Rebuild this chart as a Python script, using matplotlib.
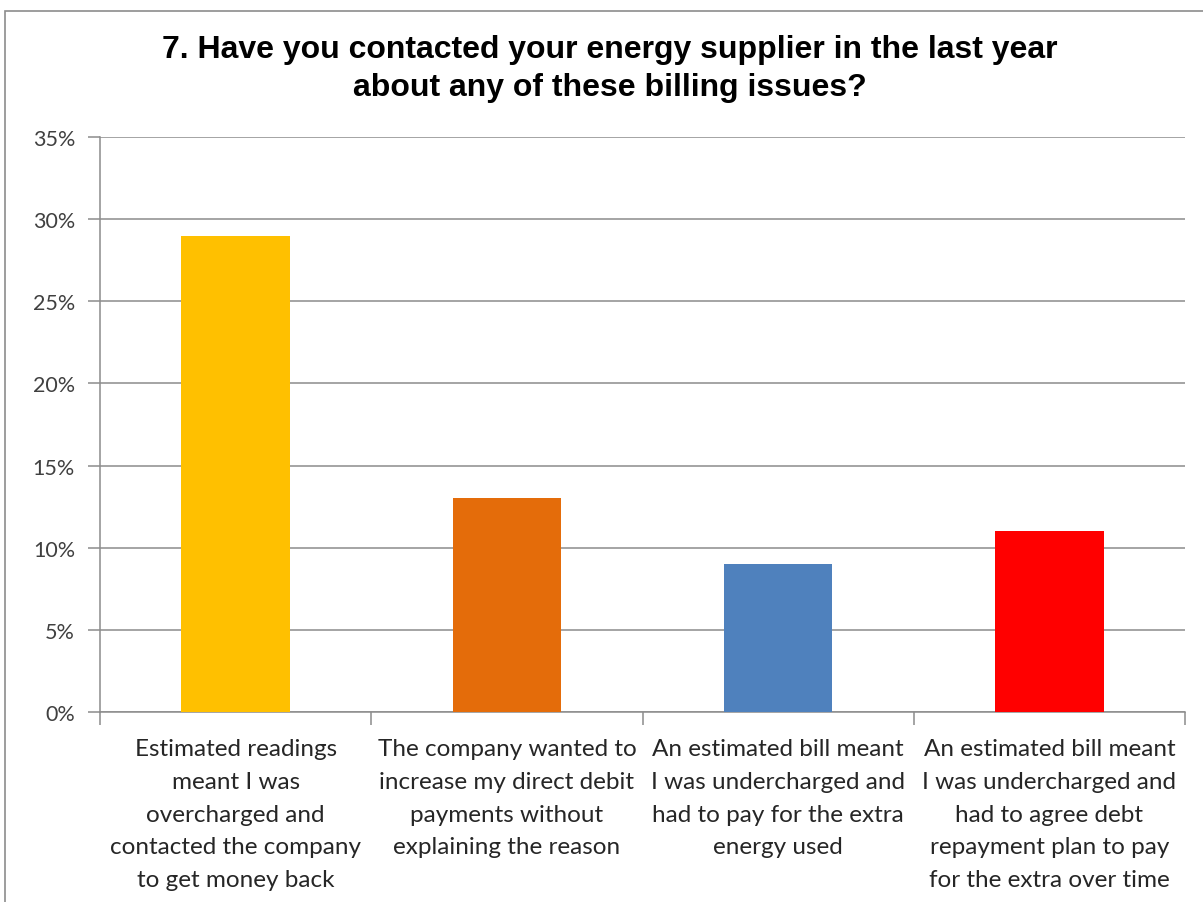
import matplotlib.pyplot as plt
from matplotlib.patches import Rectangle
from matplotlib.ticker import FuncFormatter

categories = [
    "Estimated readings\nmeant I was\novercharged and\ncontacted the company\nto get money back",
    "The company wanted to\nincrease my direct debit\npayments without\nexplaining the reason",
    "An estimated bill meant\nI was undercharged and\nhad to pay for the extra\nenergy used",
    "An estimated bill meant\nI was undercharged and\nhad to agree debt\nrepayment plan to pay\nfor the extra over time",
]
values = [0.29, 0.13, 0.09, 0.11]
colors = ["#FFC000", "#E46C0A", "#4F81BD", "#FF0000"]
title = "7. Have you contacted your energy supplier in the last year\nabout any of these billing issues?"

fig = plt.figure(figsize=(12.03, 9.03), dpi=100)
# outer chart border (cropped on right/bottom)
fig.patches.append(Rectangle((5 / 1203, -0.05), 1.1, 1 - 12 / 903 + 0.05,
                             transform=fig.transFigure, fill=False,
                             edgecolor="#8c8c8c", linewidth=1.2))

ax = fig.add_axes([100 / 1203, 1 - 713 / 903, 1085 / 1203, 575 / 903])
x = range(len(values))
ax.bar(x, values, width=0.4, color=colors, zorder=3)

ax.set_xlim(-0.5, len(values) - 0.5)
ax.set_ylim(0, 0.35)
ax.set_yticks([i * 0.05 for i in range(8)])
ax.yaxis.set_major_formatter(FuncFormatter(lambda v, p: f"{v * 100:.0f}%"))
ax.grid(axis="y", color="#8c8c8c", linewidth=1.1, zorder=0)

for s in ["top", "right"]:
    ax.spines[s].set_visible(False)
for s in ["left", "bottom"]:
    ax.spines[s].set_color("#8c8c8c")
    ax.spines[s].set_linewidth(1.1)

ax.set_xticks([i - 0.5 for i in range(len(values) + 1)], minor=False)
ax.set_xticklabels([])
ax.set_xticks(list(x), minor=True)
ax.set_xticklabels(categories, minor=True, fontsize=17.5, family=["Lato", "DejaVu Sans"],
                   color="#262626", linespacing=1.68, va="top")
ax.tick_params(axis="x", which="major", length=9, color="#8c8c8c", width=1.1)
ax.tick_params(axis="x", which="minor", length=0, pad=19)
ax.tick_params(axis="y", length=9, color="#8c8c8c", width=1.1, labelsize=15.5,
               labelcolor="#404040", pad=9)
for lab in ax.get_yticklabels():
    lab.set_family(["Lato", "DejaVu Sans"])

fig.text(610 / 1203, 1 - 69 / 903, title, ha="center", va="center",
         fontsize=23, fontweight="bold", family=["Liberation Sans", "DejaVu Sans"],
         linespacing=1.33)

fig.savefig("out.png", dpi=100, facecolor="white")
